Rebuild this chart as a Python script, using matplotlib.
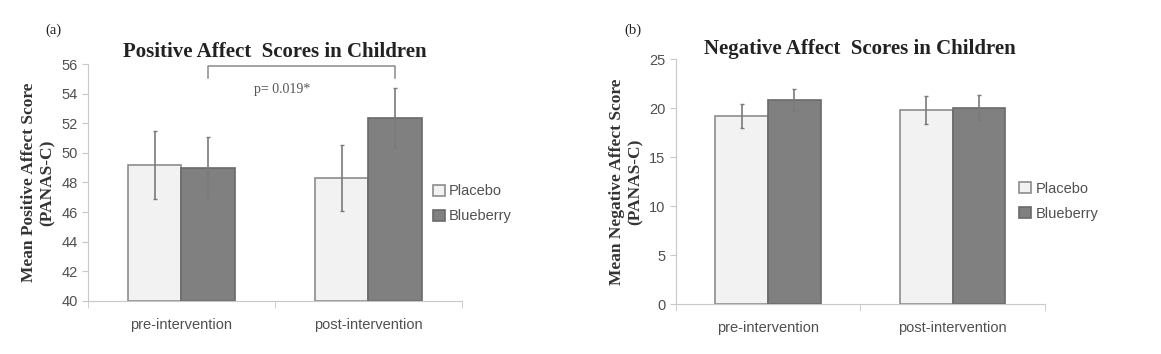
import numpy as np
import matplotlib.pyplot as plt

groups = ['pre-intervention', 'post-intervention']
series = ['Placebo', 'Blueberry']

pos_placebo = [49.2, 48.3]
pos_placebo_err = [2.3, 2.2]
pos_blue = [49.0, 52.35]
pos_blue_err = [2.1, 2.05]

neg_placebo = [19.2, 19.8]
neg_placebo_err = [1.25, 1.4]
neg_blue = [20.8, 20.05]
neg_blue_err = [1.1, 1.3]

p_text = 'p= 0.019*'

fill = ['#f2f2f2', '#808080']
edge = ['#8c8c8c', '#6a6a6a']
tick_col = '#505050'
spine_col = '#c8c8c8'
sans = 'Liberation Sans'
serif = 'Liberation Serif'

fig = plt.figure(figsize=(11.61, 3.54), dpi=100)
axa = fig.add_axes([0.0758, 0.150, 0.322, 0.669])
axb = fig.add_axes([0.582, 0.141, 0.318, 0.692])


def draw(ax, vals, errs, ylim, yticks, ylabel, title, tpad, leg_anchor):
    x = np.arange(len(groups))
    w = 0.285
    for i, (v, e) in enumerate(zip(vals, errs)):
        off = (i - 0.5) * w
        ax.bar(x + off, np.array(v) - ylim[0], w, bottom=ylim[0], color=fill[i],
               edgecolor=edge[i], linewidth=1.2, label=series[i], zorder=2)
        ax.errorbar(x + off, v, yerr=e, fmt='none', ecolor='#7a7a7a',
                    elinewidth=1.2, capsize=1.5, capthick=1, zorder=3)
    ax.set_xlim(-0.5, 1.5)
    ax.set_ylim(*ylim)
    ax.set_yticks(yticks)
    ax.set_xticks(x)
    ax.set_xticklabels(groups, family=sans)
    for t in ax.get_yticklabels():
        t.set_family(sans)
    ax.set_xticks([-0.5, 0.5, 1.5], minor=True)
    ax.tick_params(axis='x', which='major', length=0, pad=12,
                   labelsize=10.5, labelcolor=tick_col)
    ax.tick_params(axis='x', which='minor', length=5, color=spine_col)
    ax.tick_params(axis='y', length=4, color=spine_col, labelsize=10.5,
                   labelcolor=tick_col)
    for s in ['top', 'right']:
        ax.spines[s].set_visible(False)
    for s in ['left', 'bottom']:
        ax.spines[s].set_color(spine_col)
    ax.set_ylabel(ylabel, family=serif, fontweight='bold',
                  fontsize=12.5, color='#333333', labelpad=4, linespacing=1.2)
    ax.set_title(title, family=serif, fontweight='bold',
                 fontsize=15, color='#222222', pad=tpad)
    leg = ax.legend(loc='center left', bbox_to_anchor=leg_anchor,
                    frameon=False, prop={'family': sans, 'size': 10.5},
                    handlelength=0.8, handleheight=0.8, handletextpad=0.3,
                    labelspacing=0.75)
    for t in leg.get_texts():
        t.set_color(tick_col)


draw(axa, [pos_placebo, pos_blue], [pos_placebo_err, pos_blue_err],
     (40, 56), np.arange(40, 57, 2),
     'Mean Positive Affect Score\n(PANAS-C)', 'Positive Affect  Scores in Children',
     5, (0.888, 0.41))
draw(axb, [neg_placebo, neg_blue], [neg_placebo_err, neg_blue_err],
     (0, 25), np.arange(0, 26, 5),
     'Mean Negative Affect Score\n(PANAS-C)', 'Negative Affect  Scores in Children',
     1, (0.895, 0.42))

# significance bracket
axa.plot([0.14, 0.14, 1.14, 1.14], [55.05, 55.85, 55.85, 55.05],
         color='#8a8a8a', lw=1.1, clip_on=False, zorder=4)
axa.text(0.54, 54.3, p_text, ha='center', va='center', fontsize=10,
         family=serif, color='#555555')

fig.text(0.039, 0.905, '(a)', family=serif, fontsize=10.5, color='#222222')
fig.text(0.538, 0.905, '(b)', family=serif, fontsize=10.5, color='#222222')

fig.savefig('out.png', dpi=100)
